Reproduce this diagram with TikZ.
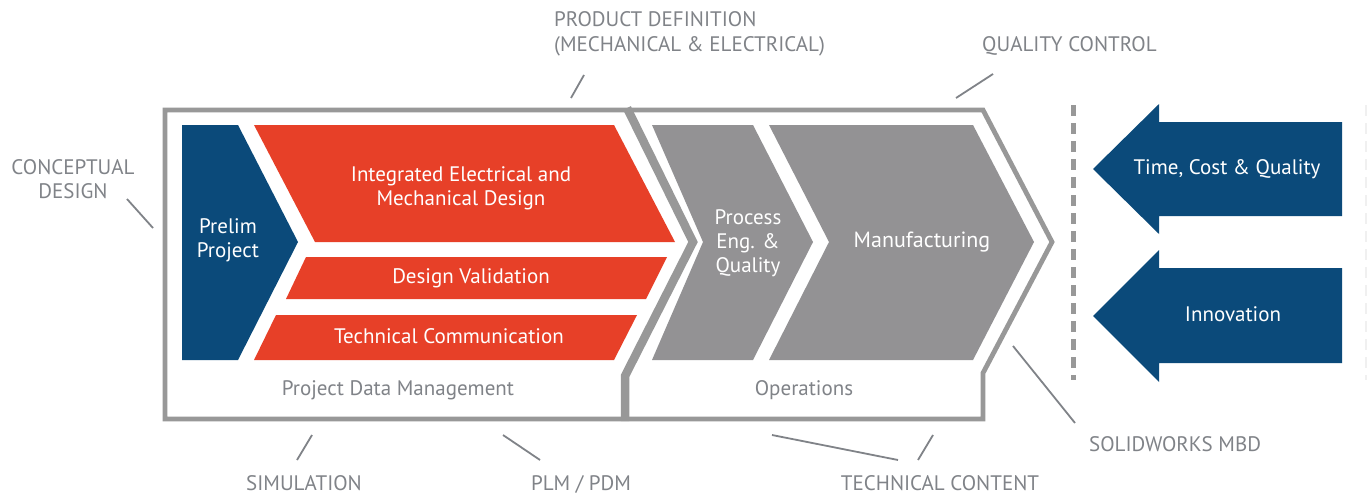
\documentclass[tikz,border=0pt]{standalone}
\usepackage{fontspec}
\setmainfont{PT Sans}
\definecolor{cblue}{RGB}{11,74,122}
\definecolor{cred}{RGB}{231,64,40}
\definecolor{cgray}{RGB}{147,146,148}
\definecolor{framegray}{RGB}{152,152,152}
\definecolor{txtgray}{RGB}{128,131,136}
\begin{document}
\begin{tikzpicture}[x=1pt,y=-1pt,
  intext/.style={text=white,font=\fontsize{21}{24}\selectfont,align=center,inner sep=0pt},
  lbl/.style={text=txtgray,font=\fontsize{21}{24}\selectfont,align=center,inner sep=0pt},
  botlbl/.style={text=txtgray,font=\fontsize{21}{24}\selectfont,inner sep=0pt,anchor=base},
  lblleft/.style={text=txtgray,font=\fontsize{21}{25}\selectfont,align=left,inner sep=0pt},
  leader/.style={draw=txtgray,line width=1.8pt},
  frame/.style={draw=framegray,line width=4.8pt,line join=miter},
  divider/.style={draw=framegray,line width=8.5pt,line join=miter},
  dashsep/.style={draw=framegray,line width=5pt,dash pattern=on 11pt off 7pt}]
\useasboundingbox (0,0) rectangle (1367,495);
\fill[white] (0,0) rectangle (1367,495);

% frame
\draw[frame] (625,419) -- (165,419) -- (165,110) -- (627,110) -- (983,110) -- (1052,242) -- (983,373) -- (983,419) -- (625,419);
\draw[divider] (627,108) -- (693,242) -- (625,376) -- (625,421);

% inner shapes
\fill[cblue] (182,125) -- (238,125) -- (298,242) -- (238,360) -- (182,360) -- cycle;
\fill[cred] (254,125) -- (614,125) -- (675,242) -- (315,242) -- cycle;
\fill[cred] (306,257) -- (667,257) -- (646,299) -- (286,299) -- cycle;
\fill[cred] (276,315) -- (637,315) -- (614,360) -- (254,360) -- cycle;
\fill[cgray] (652,125) -- (753,125) -- (813,242) -- (753,360) -- (652,360) -- (703,242) -- cycle;
\fill[cgray] (769,125) -- (973,125) -- (1034,242) -- (973,360) -- (769,360) -- (829,242) -- cycle;

% inner texts
\node[intext] (prelim) at (228,240) {Prelim\\Project};
\node[intext] (ied) at (461,188) {Integrated Electrical and\\Mechanical Design};
\node[intext] (dv) at (471,278) {Design Validation};
\node[intext] (tc) at (449,336) {Technical Communication};
\node[intext] (peq) at (748,243) {Process\\Eng. \&\\Quality};
\node[intext,font=\fontsize{22}{24}\selectfont] (mfg) at (922,242) {Manufacturing};
\node[lbl] (pdm) at (398,390) {Project Data Management};
\node[lbl] (ops) at (804,390) {Operations};

% separator
\draw[dashsep] (1073,105) -- (1073,380);
\draw[draw=black!6,line width=3pt,dash pattern=on 11pt off 7pt] (1366,105) -- (1366,380);

% right arrows
\fill[cblue] (1342,122) -- (1159,122) -- (1159,104) -- (1093,169) -- (1159,234) -- (1159,216) -- (1342,216) -- cycle;
\fill[cblue] (1342,268) -- (1159,268) -- (1159,250) -- (1093,316) -- (1159,382) -- (1159,363) -- (1342,363) -- cycle;
\node[intext] (tcq) at (1227,169) {Time, Cost \& Quality};
\node[intext] (inn) at (1233,314) {Innovation};

% outer labels
\node[lbl] (concept) at (73,179) {CONCEPTUAL\\DESIGN};
\node[lblleft,anchor=west] (prod) at (554,34) {PRODUCT DEFINITION\\(MECHANICAL \& ELECTRICAL)};
\node[lbl,anchor=west] (qc) at (982,46) {QUALITY CONTROL};
\node[botlbl] (sim) at (304,490) {SIMULATION};
\node[botlbl] (plm) at (581,490) {PLM / PDM};
\node[botlbl] (tcont) at (940,490) {TECHNICAL CONTENT};
\node[lbl,anchor=west] (mbd) at (1089,444) {SOLIDWORKS MBD};

% leaders
\coordinate (c1a) at (127,199); \coordinate (c1b) at (153,228);
\coordinate (p1a) at (584,75); \coordinate (p1b) at (571,98);
\coordinate (q1a) at (993,74); \coordinate (q1b) at (956,98);
\coordinate (s1a) at (312,435); \coordinate (s1b) at (297,460);
\coordinate (l1a) at (503,435); \coordinate (l1b) at (540,460);
\coordinate (t1a) at (772,435); \coordinate (t1b) at (898,460);
\coordinate (t2a) at (933,435); \coordinate (t2b) at (918,460);
\coordinate (m1a) at (1013,346); \coordinate (m1b) at (1075,423);
\draw[leader] (c1a) -- (c1b);
\draw[leader] (p1a) -- (p1b);
\draw[leader] (q1a) -- (q1b);
\draw[leader] (s1a) -- (s1b);
\draw[leader] (l1a) -- (l1b);
\draw[leader] (t1a) -- (t1b);
\draw[leader] (t2a) -- (t2b);
\draw[leader] (m1a) -- (m1b);
\end{tikzpicture}
\end{document}
